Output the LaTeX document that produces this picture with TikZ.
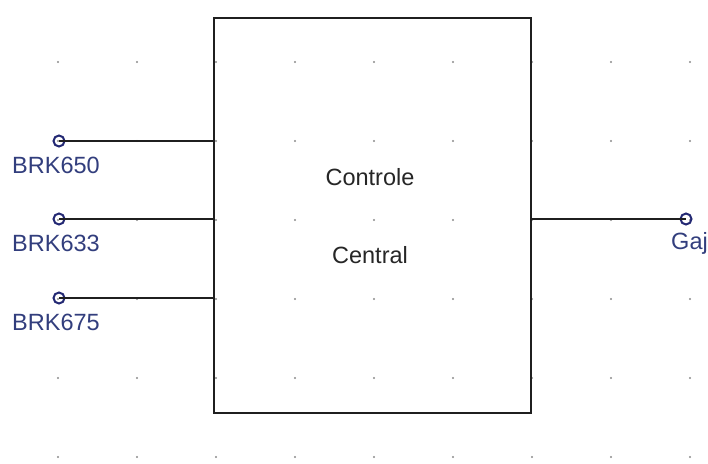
\documentclass[tikz,border=0pt]{standalone}
\usepackage{fontspec}
\setmainfont{Liberation Sans}
\begin{document}
\begin{tikzpicture}[x=1pt,y=-1pt,
  wire/.style={line width=2.3pt,black!88},
  pin/.style={circle,draw=pinblue,line width=2pt,minimum size=11pt,inner sep=0pt},
  pinlabel/.style={text=labelblue,font=\fontsize{23.5}{27}\selectfont,inner sep=0pt},
  boxtext/.style={text=black!85,font=\fontsize{23.5}{27}\selectfont,inner sep=0pt},
  griddot/.style={fill=black!45,circle,inner sep=0pt,minimum size=2.2pt}]
\definecolor{pinblue}{RGB}{35,40,115}
\definecolor{labelblue}{RGB}{50,62,125}
\useasboundingbox (0,0) rectangle (708,463);
\fill[white] (0,0) rectangle (708,463);
% background grid of dots
\foreach \i in {0,...,8}
  \foreach \j in {0,...,5}
    \node[griddot] at ({58+79*\i},{62+79*\j}) {};
% central block
\draw[wire] (214,18) rectangle (531,413);
\coordinate (bl1) at (214,141);
\coordinate (bl2) at (214,219);
\coordinate (bl3) at (214,298);
\coordinate (br) at (531,219);
\node[boxtext] (t1) at (370,177) {Controle};
\node[boxtext] (t2) at (370,255) {Central};
% terminal pins
\node[pin] (p1) at (59,141) {};
\node[pin] (p2) at (59,219) {};
\node[pin] (p3) at (59,298) {};
\node[pin] (p4) at (686,219) {};
\draw[wire] (p1.center) -- (bl1);
\draw[wire] (p2.center) -- (bl2);
\draw[wire] (p3.center) -- (bl3);
\draw[wire] (br) -- (p4.center);
\node[pinlabel,anchor=west] (l1) at (12,165) {BRK650};
\node[pinlabel,anchor=west] (l2) at (12,243) {BRK633};
\node[pinlabel,anchor=west] (l3) at (12,322) {BRK675};
\node[pinlabel,anchor=east] (l4) at (708,243) {Gaj};
\end{tikzpicture}
\end{document}
